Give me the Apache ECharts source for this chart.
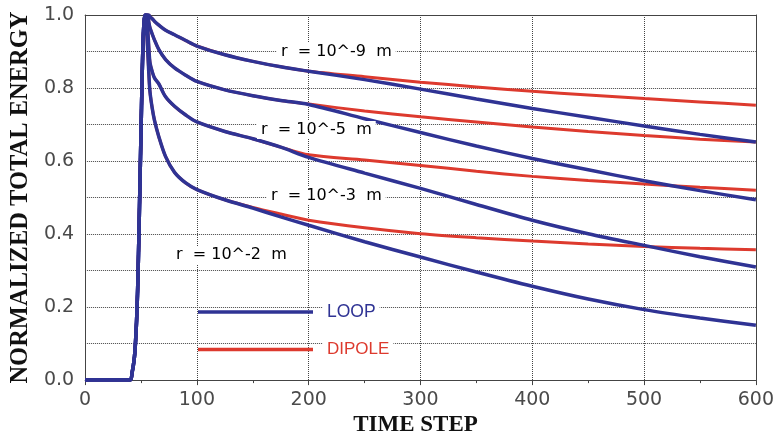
<!DOCTYPE html>
<html>
<head>
<meta charset="utf-8">
<script src="https://cdn.jsdelivr.net/npm/echarts@6/dist/echarts.min.js"></script>
<style>
  html, body { margin: 0; padding: 0; background: #fff; }
  #chart { width: 777px; height: 442px; }
</style>
</head>
<body>
<div id="chart"></div>
<script>
// Time steps shared by every curve
const steps = [0, 40, 42, 44, 45, 46, 47, 48, 49, 50, 51, 52, 53,
  54, 55, 56, 57, 58, 60, 62, 66, 72, 80, 90, 100, 125, 150, 175, 200,
  250, 300, 350, 400, 450, 500, 550, 600];

// Common pulse onset (steps 0 .. 53)
const onset = [0, 0, 0.02, 0.06, 0.10, 0.16, 0.25, 0.38, 0.53, 0.68, 0.83, 0.94, 0.99];

// Normalized total energy after the pulse (steps 54 .. 600)
const loop9   = [1.0, 1.0, 1.0, 1.0, 0.995, 0.99, 0.983, 0.972, 0.958, 0.946, 0.93, 0.915, 0.891, 0.873, 0.858, 0.846, 0.823, 0.797, 0.77, 0.744, 0.72, 0.696, 0.673, 0.652];
const dipole9 = [1.0, 1.0, 1.0, 1.0, 0.995, 0.99, 0.983, 0.972, 0.958, 0.946, 0.93, 0.915, 0.891, 0.873, 0.858, 0.846, 0.831, 0.816, 0.803, 0.791, 0.781, 0.771, 0.762, 0.753];
const loop5   = [1.0, 1.0, 1.0, 0.98, 0.965, 0.948, 0.932, 0.905, 0.878, 0.855, 0.835, 0.818, 0.795, 0.779, 0.766, 0.755, 0.716, 0.678, 0.641, 0.607, 0.576, 0.546, 0.519, 0.494];
const dipole5 = [1.0, 1.0, 1.0, 0.98, 0.965, 0.948, 0.932, 0.905, 0.878, 0.855, 0.835, 0.818, 0.795, 0.779, 0.766, 0.756, 0.737, 0.721, 0.707, 0.693, 0.681, 0.67, 0.66, 0.652];
const loop3   = [1.0, 1.0, 0.96, 0.91, 0.87, 0.845, 0.828, 0.811, 0.776, 0.75, 0.726, 0.707, 0.681, 0.661, 0.638, 0.61, 0.567, 0.525, 0.481, 0.438, 0.401, 0.369, 0.338, 0.31];
const dipole3 = [1.0, 1.0, 0.96, 0.91, 0.87, 0.845, 0.828, 0.811, 0.776, 0.75, 0.726, 0.707, 0.681, 0.661, 0.638, 0.617, 0.603, 0.588, 0.572, 0.558, 0.547, 0.537, 0.528, 0.52];
const loop2   = [1.0, 0.96, 0.9, 0.84, 0.79, 0.745, 0.712, 0.666, 0.612, 0.569, 0.54, 0.522, 0.494, 0.471, 0.447, 0.424, 0.379, 0.337, 0.296, 0.257, 0.222, 0.193, 0.17, 0.15];
const dipole2 = [1.0, 0.96, 0.9, 0.84, 0.79, 0.745, 0.712, 0.666, 0.612, 0.569, 0.54, 0.522, 0.494, 0.473, 0.455, 0.438, 0.417, 0.401, 0.39, 0.381, 0.373, 0.366, 0.361, 0.357];

// Curve annotations (radius of each source)
const radiusLabels = ['r  = 10^-9  m', 'r  = 10^-5  m', 'r  = 10^-3  m', 'r  = 10^-2  m'];

// Axis ranges and tick spacing
const xMin = 0, xMax = 600, xStep = 100;
const yMin = 0, yMax = 1, yStep = 0.2;

const BLUE = '#2f3394';
const RED = '#dd3a2e';
const AXIS = '#444';
const GRID = { color: '#444', type: [1, 1], width: 1 };

function toPoints(tail) {
  const vals = onset.concat(tail);
  return steps.map((t, i) => [t, vals[i]]);
}

function curve(name, color, width, tail) {
  return {
    type: 'line',
    name: name,
    data: toPoints(tail),
    showSymbol: false,
    smooth: 0.3,
    color: color,
    lineStyle: { color: color, width: width },
    emphasis: { disabled: true },
    z: 3
  };
}

// Plain frame axis (top / right border)
function frameAxis(position, extra) {
  return Object.assign({
    type: 'value',
    position: position,
    axisLine: { show: true, onZero: false, lineStyle: { color: AXIS, width: 1 } },
    axisTick: { show: false },
    axisLabel: { show: false },
    splitLine: { show: false }
  }, extra);
}

const chart = echarts.init(document.getElementById('chart'));

const labelFont = '16px "DejaVu Sans"';
const labelPos = [[277, 52], [257, 130], [267, 196], [172, 255]];

chart.setOption({
  animation: false,
  backgroundColor: '#fff',
  grid: { left: 83, right: 20, top: 15, bottom: 57 },
  xAxis: [{
    type: 'value',
    min: xMin, max: xMax, interval: xStep,
    name: 'TIME STEP',
    nameLocation: 'middle',
    nameGap: 31,
    nameTextStyle: {
      fontFamily: '"Liberation Serif"', fontWeight: 'bold', fontSize: 23, color: '#111',
      padding: [0, 10, 0, 0]
    },
    axisLine: { show: true, onZero: false, lineStyle: { color: AXIS, width: 1 } },
    axisTick: { show: true, inside: false, length: 5, lineStyle: { color: AXIS } },
    minorTick: { show: true, splitNumber: 2, length: 3, lineStyle: { color: AXIS } },
    axisLabel: { fontFamily: '"DejaVu Sans"', fontSize: 19, color: '#4a4a4a', margin: 10 },
    splitLine: { show: true, lineStyle: GRID }
  }, frameAxis('top', { min: xMin, max: xMax })],
  yAxis: [{
    type: 'value',
    min: yMin, max: yMax, interval: yStep,
    name: 'NORMALIZED TOTAL ENERGY',
    nameLocation: 'middle',
    nameGap: 48,
    nameTextStyle: {
      fontFamily: '"Liberation Serif"', fontWeight: 'bold', fontSize: 24.5, color: '#111'
    },
    axisLine: { show: true, onZero: false, lineStyle: { color: AXIS, width: 1 } },
    axisTick: { show: false },
    minorTick: { show: false, splitNumber: 2 },
    axisLabel: {
      fontFamily: '"DejaVu Sans"', fontSize: 19, color: '#4a4a4a', margin: 11,
      formatter: v => v.toFixed(1)
    },
    splitLine: { show: true, lineStyle: GRID },
    minorSplitLine: { show: true, lineStyle: GRID }
  }, frameAxis('right', { min: yMin, max: yMax })],
  legend: {
    data: ['LOOP', 'DIPOLE'],
    orient: 'vertical',
    left: 193, top: 298,
    itemWidth: 115, itemHeight: 3.4, itemGap: 20,
    icon: 'rect',
    selectedMode: false,
    formatter: name => name === 'LOOP' ? '{g|}{lp|LOOP}' : '{g|}{dp|DIPOLE}',
    textStyle: {
      rich: {
        g: { width: 5, height: 20 },
        lp: { color: BLUE, backgroundColor: '#fff', padding: [0, 4], lineHeight: 20,
              fontSize: 17.5, fontFamily: '"Liberation Sans"' },
        dp: { color: RED, backgroundColor: '#fff', padding: [0, 4], lineHeight: 20,
              fontSize: 17, fontFamily: '"Liberation Sans"' }
      }
    }
  },
  graphic: radiusLabels.map((txt, i) => ({
    type: 'text',
    x: labelPos[i][0],
    y: labelPos[i][1],
    z: 100,
    style: {
      text: txt,
      font: labelFont,
      fill: '#000',
      backgroundColor: '#fff',
      padding: [1, 4],
      verticalAlign: 'middle',
      align: 'left'
    }
  })),
  series: [
    curve('DIPOLE', RED, 3, dipole9),
    curve('DIPOLE', RED, 3, dipole5),
    curve('DIPOLE', RED, 3, dipole3),
    curve('DIPOLE', RED, 3, dipole2),
    curve('LOOP', BLUE, 3.5, loop9),
    curve('LOOP', BLUE, 3.5, loop5),
    curve('LOOP', BLUE, 3.5, loop3),
    curve('LOOP', BLUE, 3.5, loop2)
  ]
});
</script>
</body>
</html>
